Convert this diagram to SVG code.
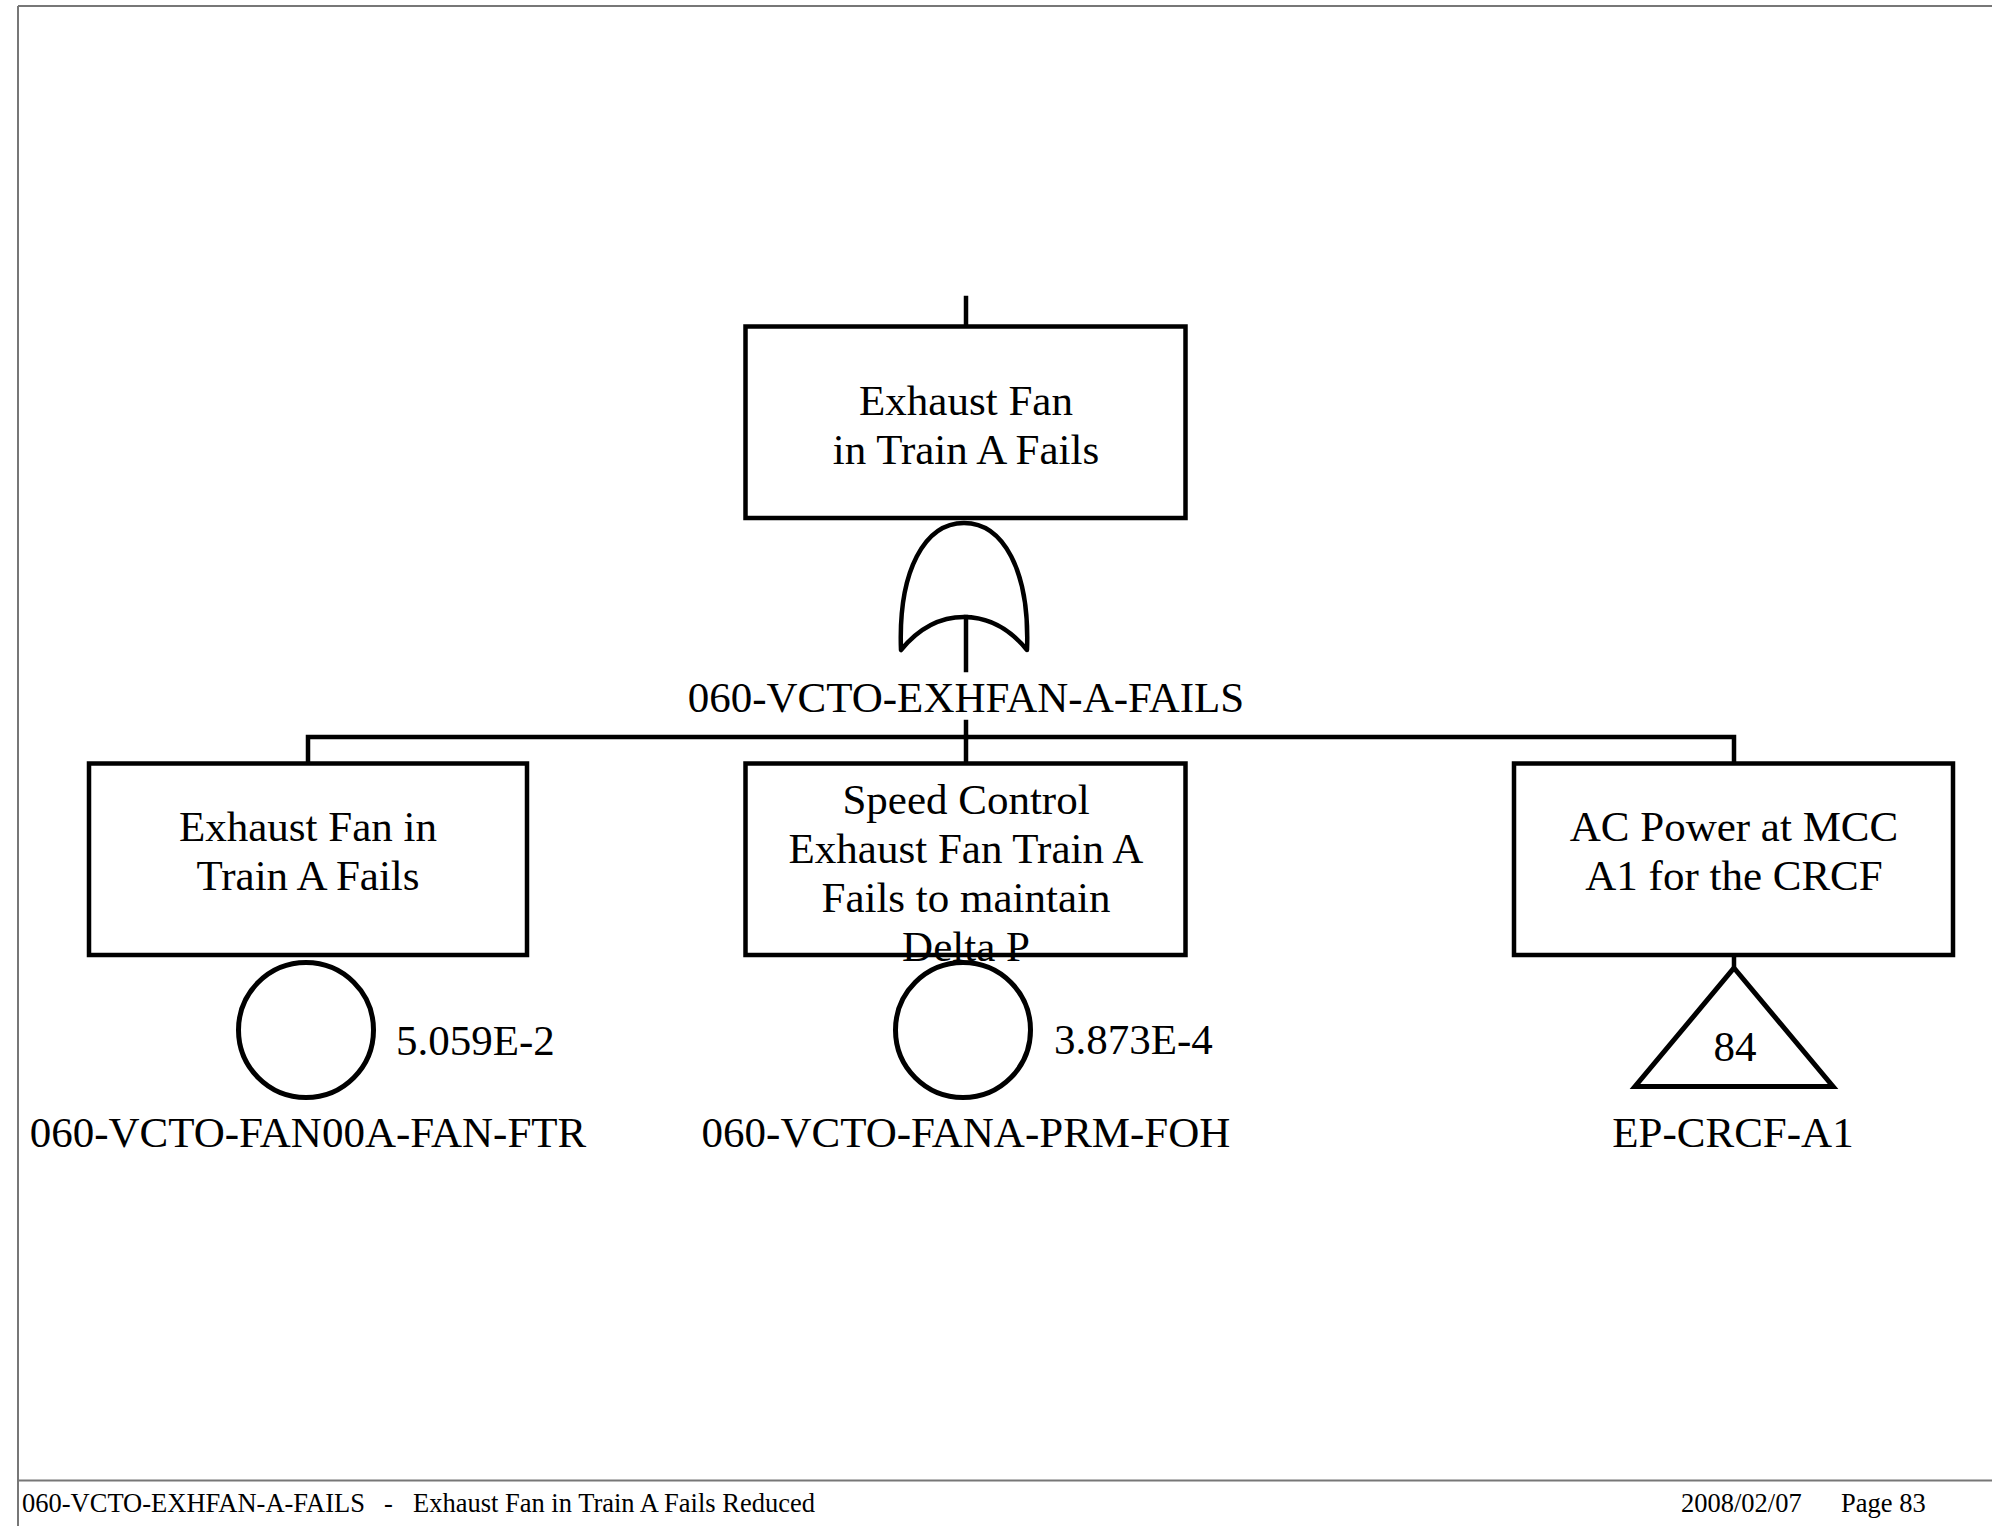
<svg xmlns="http://www.w3.org/2000/svg" width="1992" height="1526" viewBox="0 0 1992 1526">
<style>
.frame{stroke:#777;stroke-width:2;fill:none}
.ln{stroke:#000;stroke-width:4.5;fill:none;stroke-linecap:square}
.box{stroke:#000;stroke-width:4.5;fill:#fff}
.sh{stroke:#000;stroke-width:5;fill:#fff}
text{font-family:"Liberation Serif","Times New Roman",serif;fill:#000}
.t{font-size:43px;text-anchor:middle}
.p{font-size:43px}
.f{font-size:26.5px}
</style>
<rect width="1992" height="1526" fill="#fff"/>
<g id="page">
<line class="frame" x1="18" y1="6" x2="1992" y2="6"/>
<line class="frame" x1="18" y1="6" x2="18" y2="1526"/>
<line class="frame" x1="18" y1="1480.5" x2="1992" y2="1480.5" stroke="#999"/>
<text class="f" x="22" y="1512">060-VCTO-EXHFAN-A-FAILS</text>
<text class="f" x="384" y="1512">-</text>
<text class="f" x="413" y="1512">Exhaust Fan in Train A Fails Reduced</text>
<text class="f" x="1681" y="1512">2008/02/07</text>
<text class="f" x="1841" y="1512">Page 83</text>
</g>
<g id="connectors">
<line class="ln" x1="966" y1="298" x2="966" y2="326"/>
<line class="ln" x1="966" y1="722" x2="966" y2="737"/>
<polyline class="ln" points="308,763 308,737 1734,737 1734,763"/>
<line class="ln" x1="966" y1="737" x2="966" y2="763"/>
<line class="ln" x1="1734" y1="955" x2="1734" y2="968"/>
</g>
<g id="top-event">
<rect class="box" x="745.5" y="326.5" width="440" height="191.5"/>
<text class="t" x="966" y="415">Exhaust Fan</text>
<text class="t" x="966" y="464">in Train A Fails</text>
</g>
<g id="or-gate">
<path class="ln" stroke-linejoin="round" d="M 901 650 C 898 570 925 523 964 523 C 1003 523 1030 570 1027 650 Q 1000 617 964 617 Q 928 617 901 650 Z" fill="#fff"/>
<line class="ln" x1="966" y1="617" x2="966" y2="670"/>
<text class="t" x="966" y="712">060-VCTO-EXHFAN-A-FAILS</text>
</g>
<g id="node-fan">
<rect class="box" x="89" y="763.5" width="438" height="191.5"/>
<text class="t" x="308" y="841">Exhaust Fan in</text>
<text class="t" x="308" y="890">Train A Fails</text>
<circle class="sh" cx="306" cy="1030" r="67.5"/>
<text class="p" x="396" y="1055">5.059E-2</text>
<text class="t" x="308" y="1147">060-VCTO-FAN00A-FAN-FTR</text>
</g>
<g id="node-speed">
<rect class="box" x="745.5" y="763.5" width="440" height="191.5"/>
<circle class="sh" cx="963" cy="1030" r="67.5"/>
<text class="t" x="966" y="814">Speed Control</text>
<text class="t" x="966" y="863">Exhaust Fan Train A</text>
<text class="t" x="966" y="912">Fails to maintain</text>
<text class="t" x="966" y="961">Delta P</text>
<text class="p" x="1054" y="1054">3.873E-4</text>
<text class="t" x="966" y="1147">060-VCTO-FANA-PRM-FOH</text>
</g>
<g id="node-acpower">
<rect class="box" x="1514" y="763.5" width="439" height="191.5"/>
<text class="t" x="1734" y="841">AC Power at MCC</text>
<text class="t" x="1734" y="890">A1 for the CRCF</text>
<polygon class="sh" stroke-linejoin="miter" points="1734,968 1833,1086.5 1635,1086.5"/>
<text class="t" x="1735" y="1061">84</text>
<text class="t" x="1733" y="1147">EP-CRCF-A1</text>
</g>
</svg>
